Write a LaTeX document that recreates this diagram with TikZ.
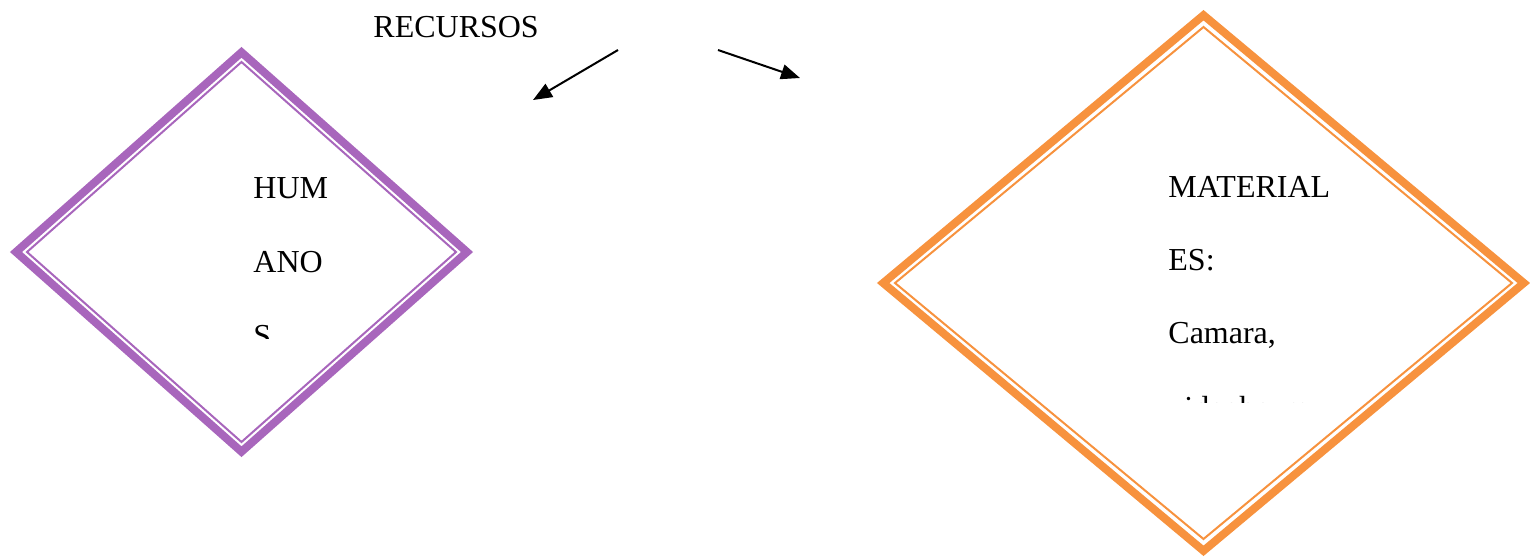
\documentclass[tikz,border=0pt]{standalone}
\usepackage{fontspec}
\setmainfont{Liberation Serif}
\usetikzlibrary{shapes.geometric,arrows.meta}
\definecolor{lila}{RGB}{168,102,188}
\definecolor{naranja}{RGB}{247,146,62}

\begin{document}
\begin{tikzpicture}[x=0.5pt, y=-0.5pt,
	rombo/.style={diamond, inner sep=0pt, outer sep=0pt, draw=#1, line width=4pt},
	rombofino/.style={diamond, inner sep=0pt, outer sep=0pt, draw=#1, line width=1pt},
	txt/.style={anchor=base west, inner sep=0pt, font=\fontsize{16}{18}\selectfont},
	flecha/.style={line width=1pt, -{Triangle[length=9.5pt,width=7.5pt]}}]
		\useasboundingbox (0,0) rectangle (1530,558);

		\node[txt] (recursos) at (373,37) {RECURSOS};
		\coordinate (ini1) at (618,50);
		\coordinate (fin1) at (533,100);
		\coordinate (ini2) at (718,50);
		\coordinate (fin2) at (800,78);
		\draw[flecha] (ini1) -- (fin1);
		\draw[flecha] (ini2) -- (fin2);

		\begin{scope}
			\node[rombo=lila, minimum width=225.5pt, minimum height=199.7pt] (humanos) at (241.5,252) {};
			\node[rombofino=lila, minimum width=214.5pt, minimum height=190pt] (humanosin) at (humanos) {};
			\clip (240,150) rectangle (350,338);
			\node[txt] (hum) at (253,198) {HUM};
			\node[txt] (ano) at (253,272) {ANO};
			\node[txt] (s) at (253,346) {S};
		\end{scope}

		\begin{scope}
			\node[rombo=naranja, minimum width=320.3pt, minimum height=267.8pt] (materiales) at (1203.5,283) {};
			\node[rombofino=naranja, minimum width=308.5pt, minimum height=256pt] (materialesin) at (materiales) {};
			\clip (1150,150) rectangle (1400,402);
			\node[txt] (mat) at (1168,197) {MATERIAL};
			\node[txt] (es) at (1168,270) {ES:};
			\node[txt] (cam) at (1168,343) {Camara,};
			\node[txt] (vid) at (1168,418) {videobeam};
		\end{scope}
	\end{tikzpicture}
\end{document}
